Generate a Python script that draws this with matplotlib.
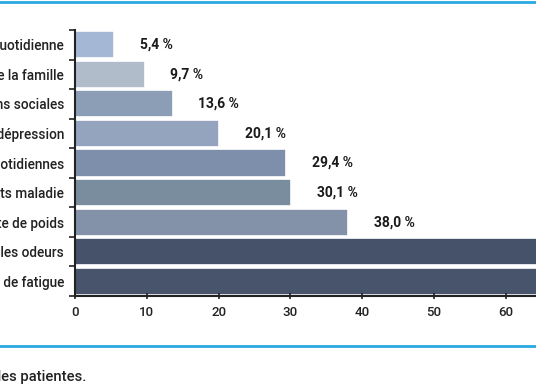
import matplotlib
matplotlib.use("Agg")
import matplotlib.pyplot as plt
from matplotlib.lines import Line2D

# data, top bar first
categories = [
    "Limitation de la vie quotidienne",
    "Retentissement sur la vie de la famille",
    "Limitation des relations sociales",
    "Anxiété, dépression",
    "Limitation des activités quotidiennes",
    "Arrêts maladie",
    "Perte de poids",
    "Aversion pour les odeurs",
    "Sensation de fatigue",
]
values = [5.4, 9.7, 13.6, 20.1, 29.4, 30.1, 38.0, 68.5, 73.2]
bar_colors = ["#a4b7d5", "#b1bccb", "#8c9db6", "#94a4bf", "#7d8fab",
              "#7a8d9e", "#8391a9", "#45526a", "#48546c"]
x_ticks = [0, 10, 20, 30, 40, 50, 60]
footnote = "Enquête réalisée auprès des patientes."

plt.rcParams["font.family"] = ["Roboto", "DejaVu Sans"]

fig = plt.figure(figsize=(5.36, 3.86), dpi=100)
W, H = 536, 386
# axes deliberately run past the right edge (chart is a crop)
ax = fig.add_axes([75 / W, 90 / H, 502.6 / W, 266 / H])

ypos = list(range(len(categories)))
ax.barh(ypos, values, height=0.92, color=bar_colors, edgecolor="white", linewidth=1.2)
for y, v in zip(ypos, values):
    ax.text(v + 3.6, y, "{:.1f} %".format(v).replace(".", ","), va="center", ha="left",
            fontsize=10, fontweight="bold", color="#1a1a1a")

ax.set_xlim(0, 70)
ax.set_ylim(len(categories) - 0.5, -0.5)
ax.set_xticks(x_ticks)
ax.set_xticklabels([str(t) for t in x_ticks], fontsize=9.5, fontweight="medium", color="#222222")
ax.set_yticks([i + 0.5 for i in range(-1, len(categories))])
ax.set_yticklabels([])
ax.set_yticks(ypos, minor=True)
ax.set_yticklabels(categories, minor=True, fontsize=9.8, fontweight="medium", color="#222222")
ax.tick_params(axis="y", which="major", length=4, width=1.2, direction="out", color="#222222")
ax.tick_params(axis="y", which="minor", length=0, pad=8)
ax.tick_params(axis="x", length=4, width=1.2, direction="inout", color="#222222", pad=5)

for s in ["top", "right"]:
    ax.spines[s].set_visible(False)
for s in ["left", "bottom"]:
    ax.spines[s].set_linewidth(1.5)
    ax.spines[s].set_color("#222222")

# blue rules top and bottom
fig.add_artist(Line2D([0, 1], [1 - 2 / H, 1 - 2 / H], transform=fig.transFigure, color="#2aa8df", lw=2))
fig.add_artist(Line2D([0, 1], [1 - 346 / H, 1 - 346 / H], transform=fig.transFigure, color="#2aa8df", lw=2))

fig.text(86 / W, 1 - 377 / H, footnote, ha="right", va="center", fontsize=10.6,
         fontweight="medium", color="#222222")

fig.savefig("out.png", dpi=100)
